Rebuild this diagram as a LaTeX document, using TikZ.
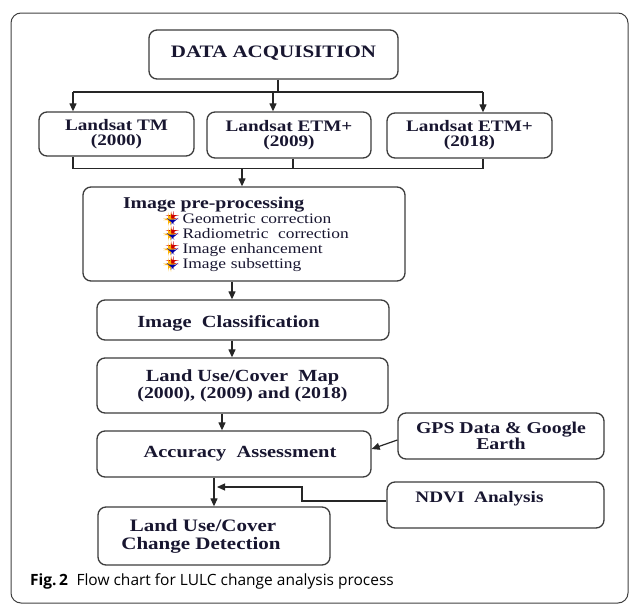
\documentclass[tikz,border=0pt]{standalone}
\usepackage{fontspec}
\usetikzlibrary{arrows.meta}
\newfontfamily\boxfont[FakeStretch=1.2]{Liberation Serif}
\newfontfamily\capfont{Open Sans}
\definecolor{inkblue}{RGB}{24,22,48}
\definecolor{edgegray}{RGB}{60,60,60}
\newcommand{\boxsize}[2]{\fontsize{#1}{#2}\selectfont}
\newcommand{\itemmark}{\tikz[x=1pt,y=1pt,baseline=0pt]{
  \fill[red!80!black] (3.5,8) rectangle (6,4);
  \fill[orange!60!yellow] (0.5,4.5) rectangle (3.5,3);
  \fill[blue!65!black] (1,3.5) -- (9,3.5) -- (5,0) -- cycle;}}
\tikzset{
  flowbox/.style={draw=edgegray, line width=1.3pt, rounded corners=8pt,
    text=inkblue, font=\boxfont\bfseries\boxsize{17}{17}, align=center, inner sep=0pt},
  busline/.style={draw=black!85, line width=1.2pt},
  arrowline/.style={busline, -{Triangle[length=8pt,width=7pt]}},
}
\begin{document}
\begin{tikzpicture}[x=1pt,y=-1pt]
\useasboundingbox (0,0) rectangle (630,605);
\draw[draw=black!75, line width=1pt, rounded corners=10pt] (11,13) rectangle (628,603);

\node[flowbox, minimum width=249pt, minimum height=49pt, text height=12pt, text depth=7pt,
  font=\boxfont\bfseries\boxsize{17.5}{18}] (acq) at (273.5,54.5) {DATA ACQUISITION};
\node[flowbox, minimum width=155pt, minimum height=44pt, font=\boxfont\bfseries\boxsize{16}{15}] (tm) at (116.5,134) {Landsat TM\\(2000)};
\node[flowbox, minimum width=164pt, minimum height=46pt, font=\boxfont\bfseries\boxsize{16}{15}] (etma) at (289,135) {Landsat ETM+\\(2009)};
\node[flowbox, minimum width=165pt, minimum height=45pt, font=\boxfont\bfseries\boxsize{16}{15}] (etmb) at (469.5,135.5) {Landsat ETM+\\(2018)};
\node[flowbox, minimum width=322pt, minimum height=94pt, text width=242pt, align=left,
  font=\boxfont\boxsize{14.5}{15}] (pre) at (244,234)
  {{\bfseries\boxsize{16.5}{15}Image pre-processing}\\
   \hspace*{45pt}\itemmark\hspace{6pt}Geometric correction\\
   \hspace*{45pt}\itemmark\hspace{6pt}Radiometric\ \ correction\\
   \hspace*{45pt}\itemmark\hspace{6pt}Image enhancement\\
   \hspace*{45pt}\itemmark\hspace{6pt}Image subsetting};
\node[flowbox, minimum width=292pt, minimum height=40pt, text height=15pt, text depth=0pt] (cls) at (243,320)
  {Image\ \ Classification\hspace*{29pt}};
\node[flowbox, minimum width=291pt, minimum height=55pt] (map) at (242.5,385.5)
  {Land Use/Cover\ \ Map\\{\boxsize{16.5}{18}(2000), (2009) and (2018)}};
\node[flowbox, minimum width=274pt, minimum height=46pt] (acc) at (234,454)
  {\hspace*{12pt}Accuracy\ \ Assessment};
\node[flowbox, minimum width=206pt, minimum height=46pt, font=\boxfont\bfseries\boxsize{16.5}{15}] (gps) at (501,436)
  {GPS Data \& Google\\Earth};
\node[flowbox, minimum width=217pt, minimum height=46pt, text height=12pt, text depth=17pt,
  font=\boxfont\bfseries\boxsize{16}{16}] (ndvi) at (495.5,505) {NDVI\ \ Analysis\hspace*{32pt}};
\node[flowbox, minimum width=232pt, minimum height=58pt, font=\boxfont\bfseries\boxsize{17.5}{18}] (chg) at (214,536)
  {Land Use/Cover\hspace*{22pt}\\Change Detection\hspace*{26pt}};

\coordinate (split) at (278,92);
\coordinate (busL) at (73,92);
\coordinate (busM) at (273,92);
\coordinate (busR) at (483,92);
\coordinate (lowL) at (73,168.5);
\coordinate (lowM) at (293,168.5);
\coordinate (lowR) at (483,168.5);
\coordinate (merge) at (242,168.5);
\coordinate (bend) at (302,487);
\coordinate (join) at (217,487);

\draw[busline] (acq.south -| split) -- (split);
\draw[busline] (busL) -- (busR);
\draw[arrowline] (busL) -- (busL |- tm.north);
\draw[arrowline] (busM) -- (busM |- etma.north);
\draw[arrowline] (busR) -- (busR |- etmb.north);
\draw[busline] (tm.south -| lowL) -- (lowL) -- (lowR) -- (etmb.south -| lowR);
\draw[busline] (etma.south -| lowM) -- (lowM);
\draw[arrowline] (merge) -- (merge |- pre.north);
\draw[arrowline] ([xshift=-12pt]pre.south) -- ([xshift=-12pt]pre.south |- cls.north);
\draw[arrowline] ([xshift=-11pt]cls.south) -- ([xshift=-11pt]cls.south |- map.north);
\draw[arrowline] ([xshift=-20.5pt]map.south) -- ([xshift=-20.5pt]map.south |- acc.north);
\draw[arrowline] ([yshift=-4pt]gps.west) -- ([yshift=5pt]acc.east);
\draw[arrowline] (acc.south -| chg.north) -- (chg.north);
\draw[arrowline] ([yshift=4pt]ndvi.west) -| (bend) -- (join);

\node[anchor=base west, inner sep=0pt, font=\capfont\fontsize{15.5}{18}\selectfont] (caption) at (30,585)
  {\textbf{Fig.\,2}\hspace{0.55em}Flow chart for LULC change analysis process};
\end{tikzpicture}
\end{document}
